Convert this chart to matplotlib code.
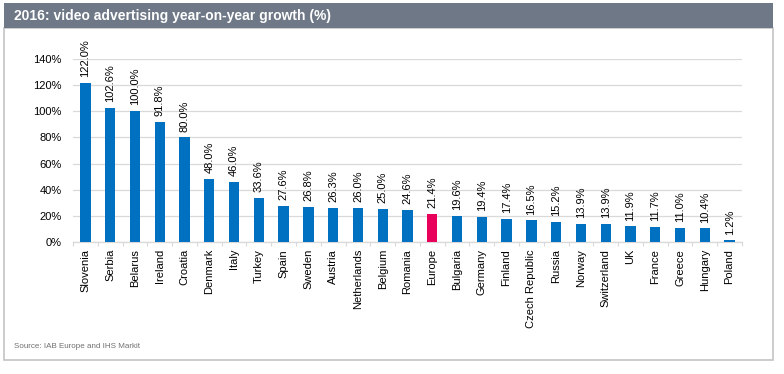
import numpy as np
import matplotlib.pyplot as plt
from matplotlib.patches import Rectangle

plt.rcParams['font.family'] = ['Liberation Sans', 'DejaVu Sans']

countries = ['Slovenia', 'Serbia', 'Belarus', 'Ireland', 'Croatia', 'Denmark', 'Italy',
             'Turkey', 'Spain', 'Sweden', 'Austria', 'Netherlands', 'Belgium', 'Romania',
             'Europe', 'Bulgaria', 'Germany', 'Finland', 'Czech Republic', 'Russia',
             'Norway', 'Switzerland', 'UK', 'France', 'Greece', 'Hungary', 'Poland']
growth = [122.0, 102.6, 100.0, 91.8, 80.0, 48.0, 46.0, 33.6, 27.6, 26.8, 26.3, 26.0,
          25.0, 24.6, 21.4, 19.6, 19.4, 17.4, 16.5, 15.2, 13.9, 13.9, 11.9, 11.7,
          11.0, 10.4, 1.2]
yticks = [0, 20, 40, 60, 80, 100, 120, 140]

W, H = 784, 374
fig = plt.figure(figsize=(W / 100, H / 100), dpi=100)

# frame and header band
fig.patches.append(Rectangle((4 / W, 1 - 360 / H), 769 / W, 332 / H, transform=fig.transFigure,
                             facecolor='white', edgecolor='#c4c4c4', linewidth=1.2, zorder=-2))
fig.patches.append(Rectangle((4 / W, 1 - 28 / H), 769 / W, 25 / H, transform=fig.transFigure,
                             facecolor='#6e7887', edgecolor='none', zorder=-1))
fig.text(14 / W, 1 - 16 / H, '2016: video advertising year-on-year growth (%)',
         color='white', fontsize=10, fontweight='bold', va='center', ha='left')
fig.text(14 / W, 1 - 347 / H, 'Source: IAB Europe and IHS Markit',
         color='#707070', fontsize=5.8, va='center', ha='left')

ax = fig.add_axes([73 / W, 1 - 242 / H, (742 - 73) / W, (242 - 59) / H])
ax.set_zorder(2)
ax.patch.set_alpha(0)
x = np.arange(len(countries))
colors = ['#e8005a' if c == 'Europe' else '#0070c0' for c in countries]
ax.bar(x, growth, width=0.42, color=colors, zorder=3)

for xi, v in zip(x, growth):
    ax.text(xi, v + 4.5, '%.1f%%' % v, rotation=90, ha='center', va='bottom',
            fontsize=8, color='black')

ax.set_xlim(-0.5, len(countries) - 0.5)
ax.set_ylim(0, 140)
ax.set_yticks(yticks)
ax.set_yticklabels(['%d%%' % t for t in yticks], fontsize=8)
ax.yaxis.grid(True, color='#d9d9d9', linewidth=0.9, zorder=0)
ax.set_axisbelow(True)

ax.set_xticks(x)
ax.set_xticklabels(countries, rotation=90, fontsize=8)
ax.tick_params(axis='x', length=0, pad=5)
ax.set_xticks(np.arange(-0.5, len(countries), 1), minor=True)
ax.tick_params(axis='x', which='minor', length=3, color='#d9d9d9', width=0.8)
ax.tick_params(axis='y', length=0, pad=8)

for s in ['top', 'right', 'left']:
    ax.spines[s].set_visible(False)
ax.spines['bottom'].set_color('#d9d9d9')
ax.spines['bottom'].set_linewidth(0.9)

fig.savefig('out.png', dpi=100)
